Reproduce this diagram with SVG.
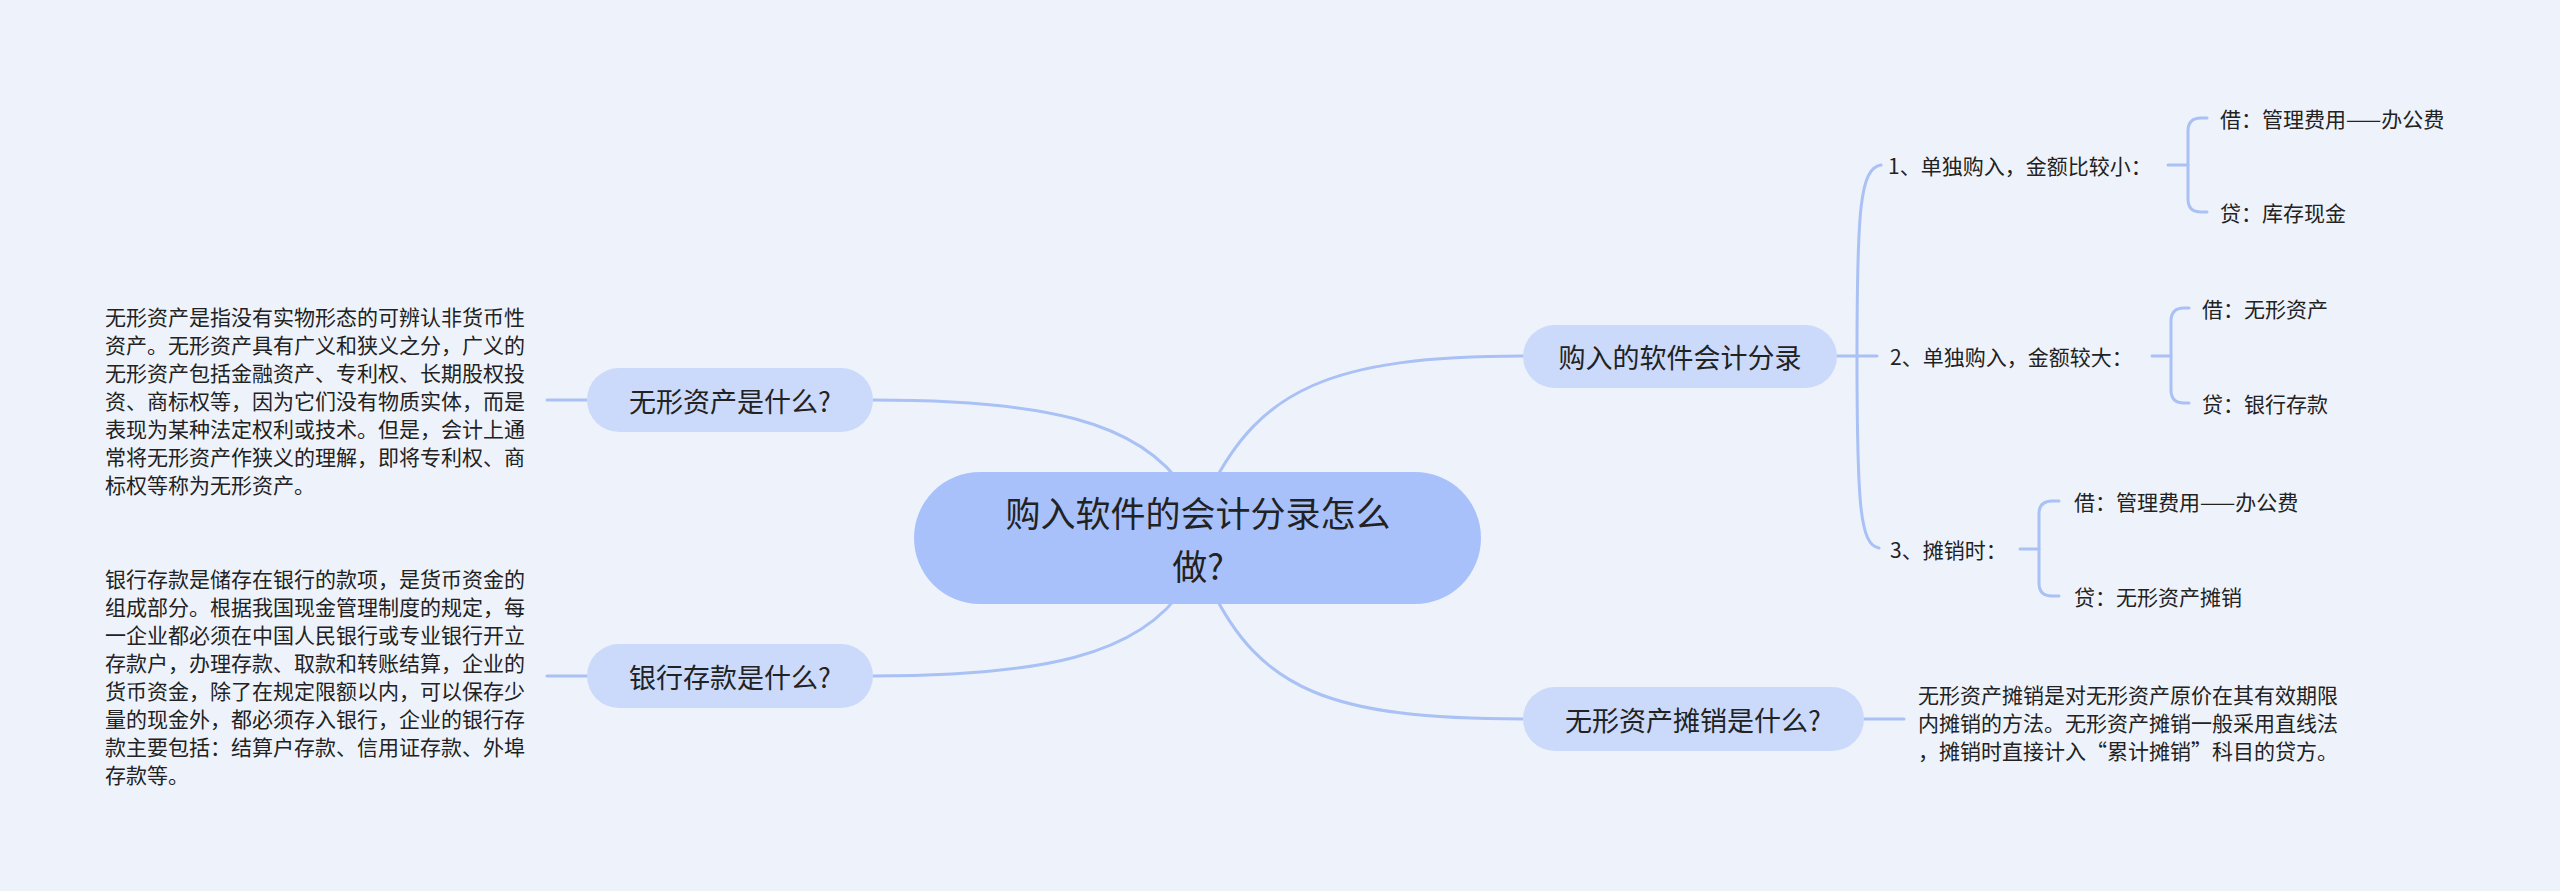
<svg xmlns="http://www.w3.org/2000/svg" width="2560" height="891" viewBox="0 0 2560 891">
<style>
.bg{fill:#eef3fb}
.conn{fill:none;stroke:#a9c1f5;stroke-width:3;stroke-linecap:round}
.root{fill:#a9c1fb}
.sub{fill:#cbdafa}
text{font-family:"Noto Sans CJK SC","Noto Sans",sans-serif;fill:#222;dominant-baseline:central}
.t-root{font-size:35px;text-anchor:middle}
.t-sub{font-size:27px;text-anchor:middle}
.t-s{font-size:21px}
</style>
<rect class="bg" x="0" y="0" width="2560" height="891"/>
<g id="connectors">
<path class="conn" d="M873 400 C1040 400 1140 420 1185 490"/>
<path class="conn" d="M873 676 C1040 676 1140 656 1185 586"/>
<path class="conn" d="M1210 490 C1260 390 1330 356 1523 356"/>
<path class="conn" d="M1210 586 C1260 690 1330 719 1523 719"/>
<path class="conn" d="M587 400 L547 400"/>
<path class="conn" d="M587 676 L547 676"/>
<path class="conn" d="M1864 719 L1904 719"/>
<path class="conn" d="M1837 356 L1877 356"/>
<path class="conn" d="M1857 356 C1857 210 1860 168 1881 165"/>
<path class="conn" d="M1857 356 C1857 505 1860 545 1879 548"/>
<path class="conn" d="M2152 356 L2171 356"/>
<path class="conn" d="M2189 308 L2184 308 Q2171 308 2171 321 L2171 390 Q2171 403 2184 403 L2189 403"/>
<path class="conn" d="M2168 165 L2188 165"/>
<path class="conn" d="M2207 118 L2201 118 Q2188 118 2188 131 L2188 199 Q2188 212 2201 212 L2207 212"/>
<path class="conn" d="M2020 549 L2039 549"/>
<path class="conn" d="M2059 501 L2052 501 Q2039 501 2039 514 L2039 583 Q2039 596 2052 596 L2059 596"/>
</g>
<g id="root">
<rect class="root" x="914" y="472" width="567" height="132" rx="66"/>
<text class="t-root" x="1198" y="511">购入软件的会计分录怎么</text>
<text class="t-root" x="1198" y="564">做?</text>
</g>
<g id="n-wuxing">
<rect class="sub" x="587" y="368" width="286" height="64" rx="32"/>
<text class="t-sub" x="730" y="400">无形资产是什么?</text>
</g>
<g id="n-wuxing-desc">
<text class="t-s" x="105" y="316">无形资产是指没有实物形态的可辨认非货币性</text>
<text class="t-s" x="105" y="344">资产。无形资产具有广义和狭义之分，广义的</text>
<text class="t-s" x="105" y="372">无形资产包括金融资产、专利权、长期股权投</text>
<text class="t-s" x="105" y="400">资、商标权等，因为它们没有物质实体，而是</text>
<text class="t-s" x="105" y="428">表现为某种法定权利或技术。但是，会计上通</text>
<text class="t-s" x="105" y="456">常将无形资产作狭义的理解，即将专利权、商</text>
<text class="t-s" x="105" y="484">标权等称为无形资产。</text>
</g>
<g id="n-yinhang">
<rect class="sub" x="587" y="644" width="286" height="64" rx="32"/>
<text class="t-sub" x="730" y="676">银行存款是什么?</text>
</g>
<g id="n-yinhang-desc">
<text class="t-s" x="105" y="578">银行存款是储存在银行的款项，是货币资金的</text>
<text class="t-s" x="105" y="606">组成部分。根据我国现金管理制度的规定，每</text>
<text class="t-s" x="105" y="634">一企业都必须在中国人民银行或专业银行开立</text>
<text class="t-s" x="105" y="662">存款户，办理存款、取款和转账结算，企业的</text>
<text class="t-s" x="105" y="690">货币资金，除了在规定限额以内，可以保存少</text>
<text class="t-s" x="105" y="718">量的现金外，都必须存入银行，企业的银行存</text>
<text class="t-s" x="105" y="746">款主要包括：结算户存款、信用证存款、外埠</text>
<text class="t-s" x="105" y="774">存款等。</text>
</g>
<g id="n-goururu">
<rect class="sub" x="1523" y="325" width="314" height="63" rx="31.5"/>
<text class="t-sub" x="1680" y="356">购入的软件会计分录</text>
</g>
<g id="n-b1">
<text class="t-s" x="1888" y="165">1、单独购入，金额比较小：</text>
</g>
<g id="n-b1-j">
<text class="t-s" x="2220" y="118">借：管理费用——办公费</text>
</g>
<g id="n-b1-d">
<text class="t-s" x="2220" y="212">贷：库存现金</text>
</g>
<g id="n-b2">
<text class="t-s" x="1890" y="356">2、单独购入，金额较大：</text>
</g>
<g id="n-b2-j">
<text class="t-s" x="2202" y="308">借：无形资产</text>
</g>
<g id="n-b2-d">
<text class="t-s" x="2202" y="403">贷：银行存款</text>
</g>
<g id="n-b3">
<text class="t-s" x="1890" y="549">3、摊销时：</text>
</g>
<g id="n-b3-j">
<text class="t-s" x="2074" y="501">借：管理费用——办公费</text>
</g>
<g id="n-b3-d">
<text class="t-s" x="2074" y="596">贷：无形资产摊销</text>
</g>
<g id="n-tanxiao">
<rect class="sub" x="1523" y="687" width="341" height="64" rx="32"/>
<text class="t-sub" x="1693" y="719">无形资产摊销是什么?</text>
</g>
<g id="n-tanxiao-desc">
<text class="t-s" x="1918" y="694">无形资产摊销是对无形资产原价在其有效期限</text>
<text class="t-s" x="1918" y="722">内摊销的方法。无形资产摊销一般采用直线法</text>
<text class="t-s" x="1918" y="750">，摊销时直接计入“累计摊销”科目的贷方。</text>
</g>
</svg>
